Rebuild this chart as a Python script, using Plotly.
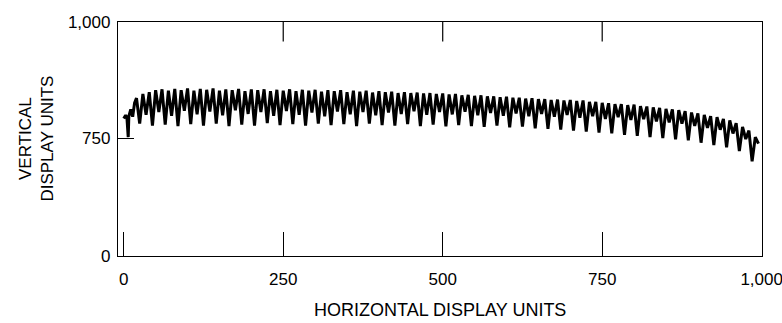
import plotly.graph_objects as go

# Horizontal display units (sample positions) and vertical display units (signal)
x_units = [0, 3, 5, 7, 8, 11, 14, 17,
           20, 25, 30, 35, 40, 45, 50, 55, 60, 65, 70, 75, 80, 85, 90, 95,
           100, 105, 110, 115, 120, 125, 130, 135, 140, 145, 150, 155, 160, 165, 170, 175,
           180, 185, 190, 195, 200, 205, 210, 215, 220, 225, 230, 235, 240, 245, 250, 255,
           260, 265, 270, 275, 280, 285, 290, 295, 300, 305, 310, 315, 320, 325, 330, 335,
           340, 345, 350, 355, 360, 365, 370, 375, 380, 385, 390, 395, 400, 405, 410, 415,
           420, 425, 430, 435, 440, 445, 450, 455, 460, 465, 470, 475, 480, 485, 490, 495,
           500, 505, 510, 515, 520, 525, 530, 535, 540, 545, 550, 555, 560, 565, 570, 575,
           580, 585, 590, 595, 600, 605, 610, 615, 620, 625, 630, 635, 640, 645, 650, 655,
           660, 665, 670, 675, 680, 685, 690, 695, 700, 705, 710, 715, 720, 725, 730, 735,
           740, 745, 750, 755, 760, 765, 770, 775, 780, 785, 790, 795, 800, 805, 810, 815,
           820, 825, 830, 835, 840, 845, 850, 855, 860, 865, 870, 875, 880, 885, 890, 895,
           900, 905, 910, 915, 920, 925, 930, 935, 940, 945, 950, 955, 960, 965, 970, 975,
           980, 985, 990, 995]

y_units = [792, 799, 794, 752, 797, 812, 796, 826,
           836, 781, 845, 800, 849, 777, 853, 806, 855, 779, 852, 798, 856, 776, 853, 809,
           857, 780, 852, 801, 856, 777, 854, 807, 857, 781, 852, 799, 855, 776, 853, 810,
           856, 779, 851, 802, 855, 777, 853, 806, 855, 782, 851, 798, 854, 778, 852, 808,
           855, 780, 851, 800, 854, 777, 852, 805, 854, 781, 850, 797, 853, 778, 851, 807,
           853, 780, 849, 801, 852, 776, 850, 806, 852, 781, 848, 799, 851, 778, 849, 805,
           850, 777, 847, 802, 849, 780, 847, 808, 848, 776, 846, 800, 847, 779, 845, 806,
           846, 775, 844, 801, 845, 778, 842, 807, 843, 776, 841, 799, 842, 774, 840, 804,
           840, 777, 838, 798, 839, 773, 837, 803, 837, 775, 835, 797, 836, 771, 834, 802,
           834, 770, 832, 796, 833, 768, 831, 800, 832, 766, 830, 794, 831, 764, 828, 797,
           828, 762, 826, 791, 825, 760, 823, 795, 823, 757, 821, 789, 822, 755, 819, 791,
           818, 752, 816, 786, 815, 750, 813, 784, 812, 747, 810, 781, 808, 745, 805, 776,
           803, 740, 800, 772, 797, 735, 795, 768, 791, 730, 788, 760, 782, 722, 774, 748,
           766, 700, 752, 738]

# Axis ticks (the vertical axis is drawn broken: "0" sits at the bottom of the frame)
x_range = [-9, 1000.5]
x_tickvals = [0, 250, 500, 750, 1000]
x_ticktext = ["0", "250", "500", "750", "1,000"]
y_range = [496, 1000]
y_tickvals = [496, 750, 1000]
y_ticktext = ["0", "750", "1,000"]
TOP_TICK_UNITS = 42  # length of the top-edge ticks, in vertical units

FONT = "Liberation Sans, Arial, Helvetica, sans-serif"

fig = go.Figure()
fig.add_trace(go.Scatter(x=x_units, y=y_units, mode="lines",
                         line=dict(color="black", width=3),
                         showlegend=False, hoverinfo="skip"))

# inside tick marks hanging from the top edge at the interior tick values
top_x, top_y = [], []
for v in x_tickvals[1:-1]:
    top_x += [v, v, None]
    top_y += [y_range[1], y_range[1] - TOP_TICK_UNITS, None]
fig.add_trace(go.Scatter(x=top_x, y=top_y, mode="lines",
                         line=dict(color="black", width=1.2),
                         showlegend=False, hoverinfo="skip"))

fig.update_layout(
    width=782, height=323,
    margin=dict(l=118, r=20, t=22, b=67, autoexpand=False),
    paper_bgcolor="white", plot_bgcolor="white",
    font=dict(family=FONT, color="black", size=17),
    xaxis=dict(range=x_range, tickvals=x_tickvals, ticktext=x_ticktext,
               ticks="inside", ticklen=24, tickwidth=1, tickcolor="black",
               showline=True, linecolor="black", linewidth=1.3, mirror=True,
               showgrid=False, zeroline=False, ticklabelstandoff=7,
               ticklabeloverflow="allow", automargin=False,
               tickfont=dict(size=17)),
    yaxis=dict(range=y_range, tickvals=y_tickvals, ticktext=y_ticktext,
               ticks="inside", ticklen=16, tickwidth=1, tickcolor="black",
               showline=True, linecolor="black", linewidth=1.3, mirror=True,
               showgrid=False, zeroline=False, ticklabelstandoff=3,
               automargin=False, tickfont=dict(size=17)),
    annotations=[
        dict(text="HORIZONTAL DISPLAY UNITS", xref="paper", yref="paper",
             x=0.5, y=-0.232, xanchor="center", yanchor="middle",
             showarrow=False, font=dict(size=18)),
        dict(text="VERTICAL<br>DISPLAY UNITS", xref="paper", yref="paper",
             x=-0.128, y=0.5, xanchor="center", yanchor="middle",
             textangle=-90, showarrow=False, font=dict(size=17)),
    ],
)

fig.write_html("out.html")
